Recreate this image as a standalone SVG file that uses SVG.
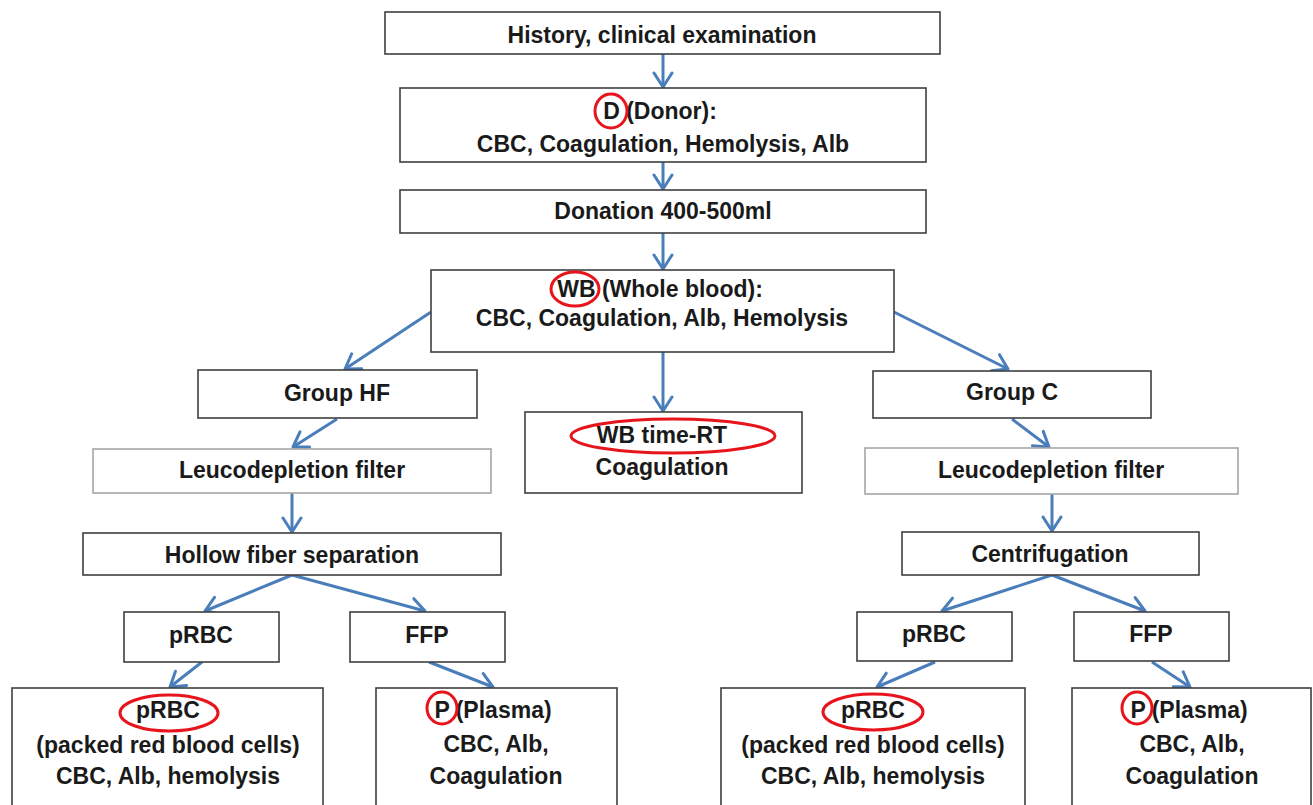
<svg xmlns="http://www.w3.org/2000/svg" width="1313" height="805" viewBox="0 0 1313 805">
<style>
.box{fill:#fff;stroke:#3f3f3f;stroke-width:1.6}
.lbox{fill:#fff;stroke:#a6a6a6;stroke-width:1.6}
.t{font-family:"Liberation Sans",Arial,sans-serif;font-weight:bold;font-size:23px;fill:#1a1a1a;text-anchor:middle}
.ring{fill:none;stroke:#e8141c;stroke-width:3}
.c{stroke:#4a7ebb;stroke-width:3;fill:none;marker-end:url(#ah)}
</style>
<defs>
<marker id="ah" markerUnits="userSpaceOnUse" markerWidth="22" markerHeight="22" viewBox="0 0 22 22" refX="18" refY="11" orient="auto">
<path d="M4,2 L18,11 L4,20" fill="none" stroke="#4a7ebb" stroke-width="3" stroke-linecap="round" stroke-linejoin="round"/>
</marker>
</defs>
<rect width="1313" height="805" fill="#fff"/>
<g id="connectors">
<line class="c" x1="663" y1="54" x2="663" y2="87"/>
<line class="c" x1="663" y1="162" x2="663" y2="189"/>
<line class="c" x1="663" y1="233" x2="663" y2="269"/>
<line class="c" x1="431" y1="312" x2="345" y2="369"/>
<line class="c" x1="894" y1="312" x2="1008" y2="369"/>
<line class="c" x1="663" y1="352" x2="663" y2="411"/>
<line class="c" x1="337" y1="419" x2="293" y2="447"/>
<line class="c" x1="292" y1="493" x2="292" y2="532"/>
<line class="c" x1="292" y1="575" x2="205" y2="611"/>
<line class="c" x1="292" y1="575" x2="425" y2="611"/>
<line class="c" x1="202" y1="662" x2="170" y2="687"/>
<line class="c" x1="429" y1="662" x2="493" y2="687"/>
<line class="c" x1="1012" y1="419" x2="1049" y2="447"/>
<line class="c" x1="1052" y1="494" x2="1052" y2="531"/>
<line class="c" x1="1052" y1="575" x2="942" y2="611"/>
<line class="c" x1="1052" y1="575" x2="1145" y2="611"/>
<line class="c" x1="935" y1="662" x2="877" y2="687"/>
<line class="c" x1="1152" y1="662" x2="1190" y2="687"/>
</g>
<g id="history">
<rect class="box" x="385" y="12" width="555" height="42"/>
<text class="t" x="662" y="43">History, clinical examination</text>
</g>
<g id="donor">
<rect class="box" x="400" y="88" width="526" height="74"/>
<text class="t" x="660" y="119">D (Donor):</text>
<text class="t" x="663" y="152">CBC, Coagulation, Hemolysis, Alb</text>
<ellipse class="ring" cx="611" cy="111" rx="16" ry="17"/>
</g>
<g id="donation">
<rect class="box" x="400" y="190" width="526" height="43"/>
<text class="t" x="663" y="219">Donation 400-500ml</text>
</g>
<g id="wholeblood">
<rect class="box" x="431" y="270" width="463" height="82"/>
<text class="t" x="660" y="297">WB (Whole blood):</text>
<text class="t" x="662" y="326">CBC, Coagulation, Alb, Hemolysis</text>
<ellipse class="ring" cx="575" cy="289" rx="24" ry="17"/>
</g>
<g id="wb-time-rt">
<rect class="box" x="525" y="412" width="277" height="81"/>
<text class="t" x="662" y="443">WB time-RT</text>
<text class="t" x="662" y="475">Coagulation</text>
<ellipse class="ring" cx="673" cy="436" rx="102" ry="17"/>
</g>
<g id="group-hf">
<rect class="box" x="198" y="370" width="279" height="48"/>
<text class="t" x="337" y="401">Group HF</text>
</g>
<g id="leuco-hf">
<rect class="lbox" x="93" y="449" width="398" height="44"/>
<text class="t" x="292" y="478">Leucodepletion filter</text>
</g>
<g id="hollow-fiber">
<rect class="box" x="83" y="533" width="418" height="42"/>
<text class="t" x="292" y="563">Hollow fiber separation</text>
</g>
<g id="prbc-hf">
<rect class="box" x="124" y="612" width="155" height="50"/>
<text class="t" x="201" y="643">pRBC</text>
</g>
<g id="ffp-hf">
<rect class="box" x="350" y="612" width="155" height="50"/>
<text class="t" x="427" y="643">FFP</text>
</g>
<g id="prbc-hf-detail">
<rect class="box" x="12" y="688" width="311" height="125"/>
<text class="t" x="168" y="718">pRBC</text>
<text class="t" x="168" y="753">(packed red blood cells)</text>
<text class="t" x="168" y="784">CBC, Alb, hemolysis</text>
<ellipse class="ring" cx="169" cy="713" rx="49" ry="18"/>
</g>
<g id="plasma-hf">
<rect class="box" x="376" y="688" width="241" height="125"/>
<text class="t" x="493" y="718">P (Plasma)</text>
<text class="t" x="496" y="752">CBC, Alb,</text>
<text class="t" x="496" y="784">Coagulation</text>
<ellipse class="ring" cx="442" cy="708" rx="15" ry="16"/>
</g>
<g id="group-c">
<rect class="box" x="873" y="371" width="278" height="47"/>
<text class="t" x="1012" y="400">Group C</text>
</g>
<g id="leuco-c">
<rect class="lbox" x="865" y="448" width="373" height="46"/>
<text class="t" x="1051" y="478">Leucodepletion filter</text>
</g>
<g id="centrifugation">
<rect class="box" x="902" y="532" width="297" height="43"/>
<text class="t" x="1050" y="562">Centrifugation</text>
</g>
<g id="prbc-c">
<rect class="box" x="857" y="612" width="155" height="49"/>
<text class="t" x="934" y="642">pRBC</text>
</g>
<g id="ffp-c">
<rect class="box" x="1074" y="612" width="155" height="49"/>
<text class="t" x="1151" y="642">FFP</text>
</g>
<g id="prbc-c-detail">
<rect class="box" x="721" y="688" width="304" height="125"/>
<text class="t" x="873" y="718">pRBC</text>
<text class="t" x="873" y="753">(packed red blood cells)</text>
<text class="t" x="873" y="784">CBC, Alb, hemolysis</text>
<ellipse class="ring" cx="873" cy="712" rx="50" ry="18"/>
</g>
<g id="plasma-c">
<rect class="box" x="1072" y="688" width="239" height="125"/>
<text class="t" x="1189" y="718">P (Plasma)</text>
<text class="t" x="1192" y="752">CBC, Alb,</text>
<text class="t" x="1192" y="784">Coagulation</text>
<ellipse class="ring" cx="1137" cy="708" rx="15" ry="16"/>
</g>
</svg>
